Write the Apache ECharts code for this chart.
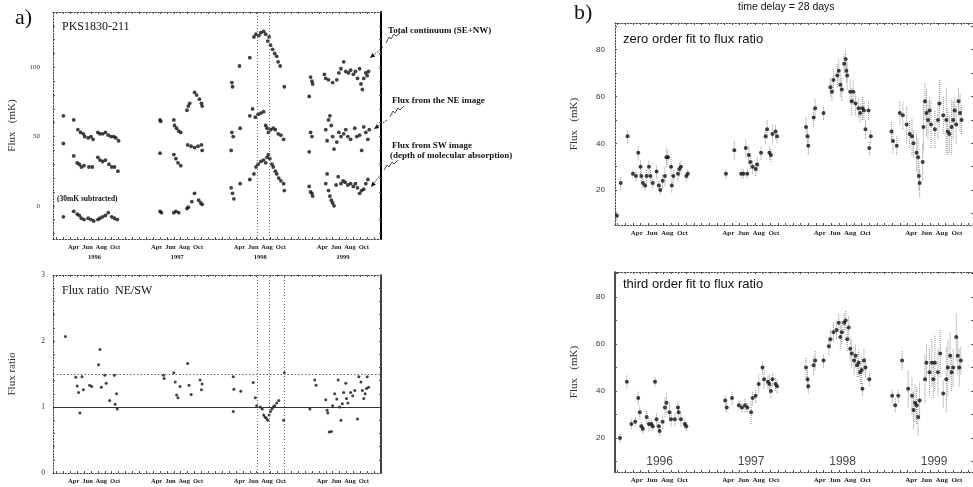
<!DOCTYPE html>
<html>
<head>
<meta charset="utf-8">
<title>PKS1830-211 flux monitoring</title>
<script src="https://cdn.jsdelivr.net/npm/echarts@6/dist/echarts.min.js"></script>
<style>
  html, body { margin: 0; padding: 0; background: #fff; }
  #main { width: 973px; height: 487px; }
</style>
</head>
<body>
<div id="main"></div>
<script>
// time axis = months counted from 1 Jan 1996
var years = ['1996', '1997', '1998', '1999'];
var monthNames = ['Apr', 'Jun', 'Aug', 'Oct'];
var monthPos = [3.5, 5.5, 7.5, 9.5];

// a) upper panel: [month, flux mK]
var totalFlux = [
  [2.0,65],[3.5,62],[4.1,55],[4.5,53],[4.9,52],[5.1,50],[5.6,49],[6.0,50],[6.3,48],[7.0,53],[7.3,52],[7.7,52],[8.1,53],[8.5,51],[8.9,50],[9.3,50],[9.6,49],[10.0,47],
  [16.0,62],[16.1,61],[18.0,62],[18.1,58],[18.4,56],[18.7,54],[19.0,53],[19.9,69],[20.1,72],[20.3,74],[21.0,82],[21.3,80],[21.7,77],[22.0,74],[22.1,72],
  [26.4,89],[26.5,86],[27.5,101],[29.0,107],[29.6,122],[29.9,124],[30.3,123],[30.6,125],[31.0,126],[31.3,124],[31.6,119],[31.8,122],[32.0,116],[32.3,113],[32.6,110],[32.9,108],[33.1,104],[33.4,101],[34.0,86],
  [37.6,79],[37.8,93],[38.0,90],[38.1,88],[39.8,95],[40.0,92],[40.4,91],[41.0,89],[41.6,91],[41.9,96],[42.2,99],[42.6,104],[42.9,97],[43.3,96],[43.6,98],[44.0,95],[44.3,97],[44.6,92],[44.9,99],[45.1,88],[45.3,84],[45.5,92],[45.8,96],[46.0,94],[46.2,97]
];
var neFlux = [
  [2.0,45],[3.5,36],[4.0,31],[4.3,30],[4.6,28],[5.0,29],[5.7,28],[6.2,28],[7.0,35],[7.3,33],[7.7,32],[8.1,33],[8.6,30],[9.0,28],[9.4,28],[9.9,25],
  [16.0,38],[18.0,37],[18.3,34],[18.6,31],[19.0,29],[20.0,44],[20.5,43],[21.0,42],[21.5,43],[22.0,44],[22.1,40],
  [26.3,40],[26.4,53],[26.6,50],[27.6,56],[29.0,65],[29.4,70],[29.8,64],[30.2,66],[30.6,67],[31.0,68],[31.3,58],[31.5,56],[31.7,53],[32.0,55],[32.4,56],[32.7,55],[33.1,52],[33.5,51],[33.9,48],
  [37.6,39],[37.8,53],[38.0,50],[40.0,55],[40.2,47],[40.4,62],[40.6,65],[40.8,58],[41.0,50],[41.2,41],[41.6,46],[41.9,53],[42.2,50],[42.6,52],[42.9,55],[43.2,50],[43.6,48],[44.2,56],[44.5,50],[44.9,51],[45.2,40],[45.5,57],[45.8,53],[46.1,48],[46.3,55]
];
var swFlux = [
  [2.0,-8],[3.5,-4],[4.0,-6],[4.3,-7],[4.6,-9],[5.0,-10],[5.6,-9],[6.0,-10],[6.4,-11],[7.0,-10],[7.3,-9],[7.7,-8],[8.1,-7],[8.5,-5],[9.0,-8],[9.4,-9],[9.8,-10],
  [16.0,-4],[16.2,-5],[18.0,-5],[18.3,-4],[18.7,-5],[19.9,-2],[20.1,-1],[20.6,3],[21.0,9],[21.6,4],[21.9,2],[22.1,1],
  [26.3,13],[26.5,9],[26.7,5],[27.6,16],[29.0,19],[29.6,23],[29.9,28],[30.2,30],[30.6,32],[31.0,33],[31.3,31],[31.5,35],[31.7,37],[31.9,34],[32.2,30],[32.4,28],[32.7,25],[32.9,23],[33.2,20],[33.5,18],[33.9,16],[34.0,11],
  [37.6,14],[37.8,10],[38.0,9],[38.1,7],[40.0,16],[40.2,23],[40.4,11],[40.6,7],[40.8,4],[41.0,2],[41.2,0],[41.5,15],[41.8,21],[42.2,16],[42.5,18],[42.8,17],[43.2,15],[43.6,16],[44.0,14],[44.3,16],[44.6,13],[44.9,9],[45.2,11],[45.5,12],[45.8,16],[46.1,19]
];

// a) lower panel: [month, NE/SW]
var fluxRatio = [
  [2.3,2.07],[3.8,1.45],[4.0,1.32],[4.2,1.22],[4.4,0.91],[4.7,1.46],[4.9,1.26],[5.8,1.33],[6.1,1.31],[7.1,1.64],[7.3,1.87],[7.5,1.30],[8.0,1.48],[8.2,1.36],[8.7,1.10],[9.4,1.48],[9.5,1.04],[9.7,1.20],[9.8,0.97],
  [16.5,1.48],[16.6,1.43],[18.0,1.52],[18.2,1.38],[18.4,1.18],[18.6,1.14],[18.9,1.31],[20.0,1.66],[20.2,1.33],[20.5,1.19],[21.8,1.41],[22.0,1.26],[22.1,1.35],
  [26.6,1.46],[26.7,1.27],[26.6,0.93],[27.7,1.24],[29.5,1.37],[29.8,1.14],[30.0,1.02],[30.5,1.0],[30.8,0.97],[31.0,0.88],[31.2,0.85],[31.4,0.83],[31.6,0.80],[31.8,0.88],[32.0,0.93],[32.2,0.97],[32.4,1.0],[32.6,1.02],[32.9,1.06],[33.2,1.1],[33.9,0.8],[34.0,1.52],
  [37.7,0.97],[38.4,1.41],[38.6,1.33],[40.0,1.11],[40.2,0.95],[40.3,0.91],[40.5,0.62],[40.8,0.63],[41.0,1.02],[41.3,1.2],[41.6,1.12],[41.8,1.41],[42.0,1.0],[42.2,0.8],[42.4,1.05],[42.6,1.22],[42.9,1.36],[43.0,1.13],[43.2,1.06],[43.6,1.22],[43.9,1.17],[44.2,1.25],[44.6,0.82],[44.8,1.46],[45.1,1.38],[45.3,1.25],[45.5,1.13],[45.7,1.2],[45.9,1.28],[46.0,1.46],[46.2,1.3]
];
var ratioLines = [1, 1.5];
var markMonths = [30.1, 31.8, 34.0];

// b) [month, flux mK, error]
var zeroFit = [
  [0.9,9,2],[1.4,23,3],[2.3,43,3],[3.0,27,2],[3.4,26,2],[3.7,36,3],[4.0,30,3],[4.1,26,2],[4.3,23,2],[4.6,22,2],[4.8,26,3],[5.1,30,3],[5.3,26,3],[5.6,23,2],[6.1,28,3],[6.4,22,2],[6.6,20,2],[6.9,24,3],[7.2,26,4],[7.4,34,4],[7.6,34,3],[8.0,30,4],[8.1,22,3],[8.3,26,3],[8.9,27,3],[9.1,29,3],[9.3,30,3],[10.0,26,2],[10.2,27,2],
  [15.2,27,2],[16.3,37,4],[17.2,27,2],[17.5,27,2],[17.8,38,4],[18.0,27,2],[18.2,35,4],[18.4,32,3],[18.7,30,3],[19.1,29,3],[19.3,31,3],[19.8,36,3],[20.4,43,3],[20.6,46,4],[20.9,36,3],[21.1,35,3],[21.3,44,4],[21.7,45,3],[21.9,43,3],
  [25.7,47,4],[25.9,43,4],[26.0,39,4],[26.7,51,4],[26.9,55,4],[28.0,53,3],[28.9,64,4],[29.1,62,4],[29.3,67,5],[29.8,69,5],[30.0,71,5],[30.2,65,5],[30.4,63,5],[30.7,74,4],[30.9,76,4],[31.0,71,5],[31.1,69,6],[31.5,62,5],[31.7,58,6],[31.9,62,5],[32.2,57,5],[32.6,55,4],[32.8,53,4],[33.1,55,5],[33.3,54,4],[33.5,46,4],[33.9,54,4],[34.0,38,3],[34.2,43,3],
  [36.9,45,4],[37.1,41,5],[37.6,39,4],[38.0,53,5],[38.4,52,6],[38.9,48,8],[39.3,44,6],[39.6,43,8],[39.8,40,6],[40.2,36,8],[40.4,34,8],[40.5,26,6],[40.6,23,6],[41.0,32,8],[41.1,47,10],[41.3,58,8],[41.5,53,10],[41.7,50,8],[41.9,54,6],[42.1,48,10],[42.6,46,8],[43.0,50,8],[43.2,57,10],[43.7,52,8],[44.1,50,14],[44.3,45,10],[44.5,44,8],[44.8,47,12],[45.0,50,8],[45.2,54,6],[45.4,48,8],[45.7,58,6],[45.9,53,8],[46.1,50,6]
];
var thirdFit = [
  [1.3,20,2],[2.2,44,3],[2.8,26,2],[3.3,27,2],[3.7,37,3],[3.9,31,3],[4.1,25,2],[4.3,24,2],[4.8,29,3],[5.1,26,3],[5.4,26,2],[5.6,25,2],[5.9,44,2],[6.1,28,3],[6.4,25,2],[6.5,23,2],[6.9,27,3],[7.2,33,4],[7.4,35,4],[7.8,31,4],[8.0,28,3],[8.5,28,3],[8.9,33,3],[9.0,31,3],[9.3,28,3],[9.8,26,2],[10.0,25,2],
  [15.1,36,2],[15.3,33,2],[16.0,37,3],[16.9,34,2],[17.3,33,2],[17.7,34,3],[18.0,33,2],[18.5,31,5],[18.7,37,3],[19.1,38,3],[19.5,43,4],[20.0,50,3],[20.2,45,4],[20.7,44,3],[20.9,43,4],[21.1,40,3],[21.3,45,3],[21.7,43,3],[21.9,42,3],
  [25.7,50,4],[25.9,45,4],[26.0,42,3],[26.7,51,4],[26.9,53,4],[28.0,53,3],[28.7,59,4],[28.9,62,4],[29.3,65,4],[29.7,66,4],[30.0,69,4],[30.2,63,5],[30.4,65,5],[30.7,69,4],[30.9,70,4],[31.1,62,5],[31.3,67,5],[31.5,58,5],[31.7,56,6],[32.0,53,6],[32.2,55,5],[32.4,51,5],[32.6,52,6],[32.8,48,5],[33.0,49,6],[33.1,41,3],[33.3,53,5],[33.5,50,4],[34.0,45,3],
  [37.0,38,3],[37.4,34,3],[37.8,38,3],[38.3,53,4],[39.1,41,8],[39.6,38,8],[39.8,32,8],[40.0,35,8],[40.2,34,8],[40.4,29,8],[40.6,36,8],[41.3,45,10],[41.5,52,8],[41.9,48,10],[42.2,52,10],[42.4,45,8],[42.6,52,12],[43.0,48,10],[43.3,56,10],[43.7,39,6],[44.1,45,14],[44.3,50,12],[44.6,55,10],[44.8,48,8],[45.0,50,8],[45.4,63,10],[45.6,55,8],[45.8,50,8],[46.0,53,6]
];

var SERIF = 'Liberation Serif';
var SANS = 'Liberation Sans';

var monthTicks = [];
for (var k = 1; k <= 47; k++) monthTicks.push(k);

function monthLabelValues(withYears) {
  var vals = [];
  years.forEach(function (y, i) {
    monthPos.forEach(function (m) { vals.push(m + 12 * i); });
    if (withYears) vals.push(6.5 + 12 * i);
  });
  return vals;
}
function monthFormatter(v) {
  var i = Math.floor(v / 12), m = v - 12 * i;
  if (m === 6.5) return '\n' + years[i];
  var idx = monthPos.indexOf(m);
  return idx >= 0 ? monthNames[idx] : '';
}

var dotted = { color: '#444', width: 1, type: [1.5, 1.5] };

function xAx(grid, min, max, pos, labels, withYears, size) {
  return {
    type: 'value', gridIndex: grid, min: min, max: max, position: pos,
    axisLine: { show: true, onZero: false, lineStyle: dotted },
    axisTick: { show: true, inside: true, length: 2, customValues: monthTicks, lineStyle: { color: '#555' } },
    splitLine: { show: false },
    axisLabel: {
      show: labels, customValues: monthLabelValues(withYears), formatter: monthFormatter,
      fontFamily: SERIF, fontWeight: 'bold', fontSize: size, color: '#222', margin: 3, lineHeight: 10
    }
  };
}
function yAx(grid, min, max, pos, labelVals, tickVals, font, size, margin, name, lineStyle) {
  return {
    type: 'value', gridIndex: grid, min: min, max: max, position: pos,
    name: name, nameLocation: 'middle', nameGap: 35,
    nameTextStyle: { fontFamily: SERIF, fontSize: 11, color: '#333' },
    axisLine: { show: true, onZero: false, lineStyle: lineStyle || dotted },
    axisTick: { show: true, inside: true, length: 2, customValues: tickVals, lineStyle: { color: '#555' } },
    splitLine: { show: false },
    axisLabel: { show: labelVals.length > 0, customValues: labelVals, fontFamily: font, fontSize: size, color: '#333', margin: margin }
  };
}

function errorBars(ax, data) {
  return {
    type: 'custom', xAxisIndex: ax, yAxisIndex: ax, data: data, silent: true, z: 1,
    encode: { x: 0, y: 1 },
    renderItem: function (params, api) {
      var x = api.value(0), y = api.value(1), e = api.value(2);
      var lo = api.coord([x, y - e]), hi = api.coord([x, y + e]);
      return { type: 'line', shape: { x1: lo[0], y1: lo[1], x2: hi[0], y2: hi[1] },
        style: { stroke: '#8c8c8c', lineWidth: 1, lineDash: [1, 1] } };
    }
  };
}
function dots(ax, data, size) {
  return {
    type: 'scatter', xAxisIndex: ax, yAxisIndex: ax, data: data, symbol: 'circle',
    symbolSize: size, itemStyle: { color: '#111' }, silent: true, z: 3
  };
}
function vLines(months) {
  return months.map(function (m) { return { xAxis: m }; });
}

var tickA = [-20, -10, 0, 10, 20, 30, 40, 50, 60, 70, 80, 90, 100, 110, 120, 130];
var tickR = [0.2, 0.4, 0.6, 0.8, 1, 1.2, 1.4, 1.6, 1.8, 2, 2.2, 2.4, 2.6, 2.8];
var tickB = [10, 20, 30, 40, 50, 60, 70, 80, 90];

function txt(x, y, s, font) {
  return { type: 'text', left: x, top: y, silent: true, style: { text: s, font: font, fill: '#111' } };
}
function squiggle(pts, from, to) {
  var dx = to[0] - from[0], dy = to[1] - from[1], L = Math.sqrt(dx * dx + dy * dy);
  var ux = dx / L, uy = dy / L, h = 5, w = 2.2;
  var bx = to[0] - ux * h, by = to[1] - uy * h;
  return [
    { type: 'polyline', silent: true, shape: { points: pts }, style: { stroke: '#222', lineWidth: 0.8, fill: null } },
    { type: 'line', silent: true, shape: { x1: from[0], y1: from[1], x2: bx, y2: by }, style: { stroke: '#222', lineWidth: 0.8, lineDash: [2, 1] } },
    { type: 'polygon', silent: true, shape: { points: [to, [bx - uy * w, by + ux * w], [bx + uy * w, by - ux * w]] }, style: { fill: '#111' } }
  ];
}

var graphics = [
  txt(15, 7, 'a)', 'normal 22px ' + SERIF),
  txt(574, 2, 'b)', 'normal 22px ' + SERIF),
  txt(62, 21, 'PKS1830-211', 'normal 12px ' + SERIF),
  txt(57, 195, '(30mK subtracted)', 'bold 7.5px ' + SERIF),
  txt(388, 26, 'Total continuum (SE+NW)', 'bold 9px ' + SERIF),
  txt(392, 96, 'Flux from the NE image', 'bold 9px ' + SERIF),
  txt(392, 141, 'Flux from SW image', 'bold 9px ' + SERIF),
  txt(390, 151, '(depth of molecular absorption)', 'bold 9px ' + SERIF),
  txt(62, 285, 'Flux ratio  NE/SW', 'normal 12px ' + SERIF),
  txt(738, 2, 'time delay = 28 days', 'normal 10.5px ' + SANS),
  txt(623, 33, 'zero order fit to flux ratio', 'normal 13px ' + SANS),
  txt(623, 278, 'third order fit to flux ratio', 'normal 13px ' + SANS)
]
  .concat(squiggle([[400, 33], [396, 36], [394, 34], [391, 39], [389, 37], [386, 43]], [383, 47], [370, 58]))
  .concat(squiggle([[404, 106], [400, 110], [398, 108], [395, 113], [393, 111], [390, 117]], [387, 120], [374, 129]))
  .concat(squiggle([[398, 160], [394, 164], [392, 162], [389, 167], [387, 165], [384, 170]], [381, 174], [371, 187]));

var option = {
  backgroundColor: '#fff',
  animation: false,
  grid: [
    { left: 53, top: 12, width: 328, height: 227 },
    { left: 53, top: 275, width: 328, height: 198 },
    { left: 615, top: 23, width: 360, height: 202 },
    { left: 615, top: 272, width: 360, height: 200 }
  ],
  xAxis: [
    xAx(0, 0.5, 48, 'bottom', true, true, 6.5),
    xAx(1, 0.5, 48, 'bottom', true, false, 6.5),
    xAx(2, 0.65, 47.6, 'bottom', true, false, 7),
    xAx(3, 0.65, 47.6, 'bottom', true, false, 7),
    xAx(0, 0.5, 48, 'top', false, false, 6.5),
    xAx(1, 0.5, 48, 'top', false, false, 6.5),
    xAx(2, 0.65, 47.6, 'top', false, false, 7),
    xAx(3, 0.65, 47.6, 'top', false, false, 7)
  ],
  yAxis: [
    yAx(0, -24, 140, 'left', [0, 50, 100], tickA, SERIF, 7, 13, 'Flux   (mK)'),
    yAx(1, 0, 3, 'left', [0, 1, 2, 3], tickR, SERIF, 7.5, 8, 'Flux ratio'),
    yAx(2, 5.1, 91.4, 'left', [20, 40, 60, 80], tickB, SANS, 8, 10, 'Flux   (mK)'),
    yAx(3, 5.6, 90.6, 'left', [20, 40, 60, 80], tickB, SANS, 8, 10, 'Flux   (mK)', { color: '#111', width: 1.5 }),
    yAx(0, -24, 140, 'right', [], tickA, SERIF, 7, 8, '', { color: '#000', width: 2 }),
    yAx(1, 0, 3, 'right', [], tickR, SERIF, 7, 8, '', { color: '#000', width: 1.5 }),
    yAx(2, 5.1, 91.4, 'right', [], tickB, SANS, 8, 8, ''),
    yAx(3, 5.6, 90.6, 'right', [], tickB, SANS, 8, 8, '')
  ],
  series: [
    Object.assign(dots(0, totalFlux, 3.8), {
      markLine: { silent: true, symbol: ['none', 'none'], label: { show: false },
        lineStyle: { color: '#777', width: 1, type: [1, 2] }, data: vLines(markMonths.slice(0, 2)) }
    }),
    dots(0, neFlux, 3.8),
    dots(0, swFlux, 3.8),
    Object.assign(dots(1, fluxRatio, 3), {
      markLine: { silent: true, symbol: ['none', 'none'], label: { show: false },
        lineStyle: { color: '#777', width: 1, type: [1, 2] },
        data: [
          { yAxis: ratioLines[0], lineStyle: { color: '#333', width: 1, type: 'solid' } },
          { yAxis: ratioLines[1], lineStyle: { color: '#666', width: 1, type: [1.5, 2] } }
        ].concat(vLines(markMonths)) }
    }),
    errorBars(2, zeroFit),
    dots(2, zeroFit, 4),
    errorBars(3, thirdFit),
    dots(3, thirdFit, 4),
    {
      type: 'scatter', xAxisIndex: 3, yAxisIndex: 3, symbolSize: 0, silent: true,
      data: years.map(function (y, i) { return [6.5 + 12 * i, 10]; }),
      label: { show: true, position: 'inside', fontFamily: SANS, fontSize: 12, color: '#111',
        formatter: function (p) { return years[p.dataIndex]; } }
    }
  ],
  graphic: graphics
};

var myChart = echarts.init(document.getElementById('main'));
myChart.setOption(option);
</script>
</body>
</html>
